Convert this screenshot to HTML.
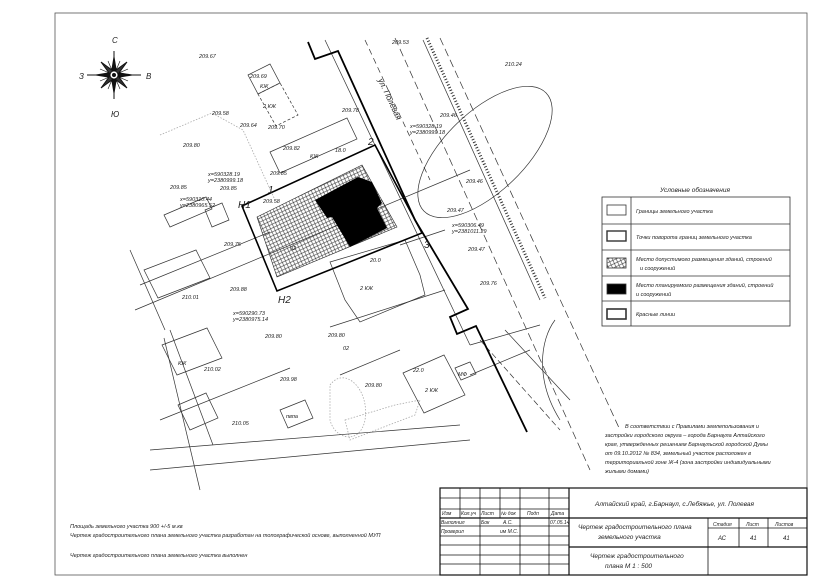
<!DOCTYPE html>
<html><head><meta charset="utf-8"><style>
html,body{margin:0;padding:0;background:#fff;}
svg{display:block;}
text{font-family:"Liberation Sans",sans-serif;font-style:italic;fill:#222;}
</style></head><body>
<svg width="830" height="586" viewBox="0 0 830 586" xmlns="http://www.w3.org/2000/svg">
<defs>
<pattern id="hx" width="5" height="5" patternUnits="userSpaceOnUse" patternTransform="rotate(20)">
<path d="M0 0L5 5M5 0L0 5" stroke="#333" stroke-width="0.6"/>
</pattern>
</defs>
<rect width="830" height="586" fill="#fff"/>
<rect x="55" y="13" width="752" height="562" fill="none" stroke="#555" stroke-width="0.8"/>

<!-- compass -->
<g transform="translate(114,75)" stroke="#111" fill="#111">
<line x1="-27" y1="0" x2="27" y2="0" stroke-width="1"/>
<line x1="0" y1="-24" x2="0" y2="24" stroke-width="1"/>
<polygon points="0,-18 3,0 0,18 -3,0"/>
<polygon points="-18,0 0,3 18,0 0,-3"/>
<polygon points="-13,-13 2,-2 13,13 -2,2" fill="#333"/>
<polygon points="13,-13 2,2 -13,13 -2,-2" fill="#333"/>
<g stroke-width="0.6" fill="none">
<line x1="-6" y1="-14" x2="6" y2="14"/><line x1="6" y1="-14" x2="-6" y2="14"/>
<line x1="-14" y1="-6" x2="14" y2="6"/><line x1="14" y1="-6" x2="-14" y2="6"/>
</g>
<circle r="4" fill="#fff" stroke-width="0.8"/>
<circle r="1.5"/>
</g>
<text x="112" y="43" font-size="8">С</text>
<text x="79" y="79" font-size="8">З</text>
<text x="146" y="79" font-size="8">В</text>
<text x="111" y="117" font-size="8">Ю</text>

<g stroke="#aaa" stroke-width="0.8" stroke-dasharray="1.5,1.5" fill="none">
<polyline points="160,135 212,113 243,130 275,200"/>
<path d="M330,385 C345,365 370,390 365,420 C360,445 335,440 330,420 Z"/>
<path d="M345,420 L395,405 L420,400 L415,415 L350,440 Z"/>
</g>

<g stroke="#333" stroke-width="0.7" fill="none">
<line x1="395" y1="38" x2="590" y2="470" stroke-dasharray="8,4"/>
<line x1="440" y1="38" x2="620" y2="430" stroke-dasharray="8,4"/>
<line x1="365" y1="40" x2="430" y2="180" stroke-dasharray="6,4"/>
<line x1="325" y1="40" x2="470" y2="345"/>
<line x1="423" y1="40" x2="540" y2="300"/>
<line x1="427" y1="38" x2="545" y2="298" stroke-dasharray="1,2" stroke-width="3"/>
<ellipse cx="485" cy="152" rx="85" ry="40" transform="rotate(-44 485 152)"/>
<path d="M555,320 C540,340 535,380 560,420"/>
<line x1="480" y1="340" x2="560" y2="430" stroke-dasharray="6,3"/>
<line x1="505" y1="330" x2="570" y2="400"/>
<line x1="400" y1="245" x2="445" y2="230"/>
<line x1="470" y1="345" x2="540" y2="325"/>
<line x1="470" y1="375" x2="530" y2="350"/>
<line x1="164" y1="338" x2="200" y2="490"/>
<line x1="130" y1="250" x2="165" y2="330"/>
</g>

<polyline points="308,42 315,59 338,51 415,220 468,309 450,317 457,334 476,326 527,432" fill="none" stroke="#000" stroke-width="1.8"/>

<g fill="none" stroke="#333" stroke-width="0.7">
<polygon points="248,75 270,64 280,83 258,94"/>
<polygon points="258,94 280,83 298,115 276,126" stroke-dasharray="3,2"/>
<polygon points="270,152 347,118 357,139 280,173"/>
<polygon points="164,215 206,197 212,209 170,227"/>
<polygon points="205,210 222,203 229,220 212,227"/>
<polygon points="144,270 196,250 210,278 158,298"/>
<polygon points="162,345 207,328 222,358 177,375"/>
<polygon points="178,405 206,393 218,418 190,430"/>
<polygon points="330,262 405,240 420,275 425,295 360,322 345,300"/>
<polygon points="403,373 444,355 465,395 424,413"/>
<polygon points="280,410 305,400 313,418 288,428"/>
<polygon points="455,368 470,362 476,374 461,380"/>
<line x1="140" y1="285" x2="270" y2="232"/>
<line x1="135" y1="310" x2="470" y2="170"/>
<line x1="160" y1="420" x2="290" y2="368"/>
<line x1="150" y1="450" x2="460" y2="425"/>
<line x1="150" y1="470" x2="470" y2="440"/>
<line x1="330" y1="327" x2="445" y2="290"/>
<line x1="170" y1="330" x2="213" y2="445"/>
<line x1="340" y1="375" x2="400" y2="350"/>
</g>

<polygon points="242,206 375,145 422,233 277,291" fill="none" stroke="#000" stroke-width="1.6"/>
<polygon points="257,217 362,165 397,227 277,277" fill="url(#hx)" stroke="#222" stroke-width="0.6"/>
<polygon points="315,200 358,177 372,182 382,203 377,208 387,228 350,247 332,217 327,218" fill="#000"/>

<g font-size="10">
<text x="238" y="208">Н1</text>
<text x="278" y="303">Н2</text>
<text x="268" y="193">1</text>
<text x="368" y="145">2</text>
<text x="424" y="248">3</text>
</g>
<g font-size="5.5">
<text x="208" y="176">x=590328.19</text><text x="208" y="182">y=2380999.18</text>
<text x="180" y="201">x=590310.44</text><text x="180" y="207">y=2380965.52</text>
<text x="410" y="128">x=590328.19</text><text x="410" y="134">y=2380999.18</text>
<text x="452" y="227">x=590306.49</text><text x="452" y="233">y=2381011.29</text>
<text x="233" y="315">x=590290.73</text><text x="233" y="321">y=2380975.14</text>
<text x="199" y="58">209.67</text><text x="250" y="78">209.69</text>
<text x="212" y="115">209.58</text><text x="240" y="127">209.64</text>
<text x="268" y="129">209.70</text><text x="183" y="147">209.80</text>
<text x="283" y="150">209.82</text><text x="270" y="175">209.85</text>
<text x="220" y="190">209.85</text><text x="170" y="189">209.85</text>
<text x="224" y="246">209.75</text><text x="230" y="291">209.88</text>
<text x="182" y="299">210.01</text><text x="265" y="338">209.80</text>
<text x="328" y="337">209.80</text><text x="280" y="381">209.98</text>
<text x="365" y="387">209.80</text><text x="204" y="371">210.02</text>
<text x="232" y="425">210.05</text><text x="392" y="44">209.53</text>
<text x="505" y="66">210.24</text><text x="440" y="117">209.46</text>
<text x="466" y="183">209.46</text><text x="447" y="212">209.47</text>
<text x="468" y="251">209.47</text><text x="480" y="285">209.76</text>
<text x="342" y="112">209.78</text><text x="263" y="203">209.58</text>
<text x="290" y="250">02</text><text x="343" y="350">02</text>
<text x="310" y="158">КЖ</text><text x="335" y="152">18.0</text>
<text x="260" y="88">КЖ</text><text x="263" y="108">2 КЖ</text>
<text x="360" y="290">2 КЖ</text><text x="370" y="262">20.0</text>
<text x="425" y="392">2 КЖ</text><text x="413" y="372">22.0</text>
<text x="286" y="418">пвпа</text><text x="458" y="376">МФ</text>
<text x="178" y="365">КЖ</text>
</g>
<text x="378" y="80" font-size="8" transform="rotate(65 378 80)">ул. Полевая</text>

<text x="660" y="192" font-size="6.5">Условные обозначения</text>
<g fill="none" stroke="#333" stroke-width="0.8">
<rect x="602" y="197" width="188" height="129"/>
<line x1="631" y1="197" x2="631" y2="326"/>
<line x1="602" y1="224" x2="790" y2="224"/>
<line x1="602" y1="250" x2="790" y2="250"/>
<line x1="602" y1="276" x2="790" y2="276"/>
<line x1="602" y1="301" x2="790" y2="301"/>
<rect x="607" y="205" width="19" height="10"/>
<rect x="607" y="231" width="19" height="10" stroke-width="1.4"/>
<rect x="607" y="258" width="19" height="10" fill="url(#hx)"/>
<rect x="607" y="284" width="19" height="10" fill="#000"/>
<rect x="607" y="309" width="19" height="10" stroke-width="1.6"/>
</g>
<g font-size="5.5">
<text x="636" y="213">Границы земельного участка</text>
<text x="636" y="239">Точки поворота границ земельного участка</text>
<text x="636" y="261">Место допустимого размещения зданий, строений</text>
<text x="640" y="270">и сооружений</text>
<text x="636" y="287">Место планируемого размещения зданий, строений</text>
<text x="636" y="296">и сооружений</text>
<text x="636" y="316">Красные линии</text>
</g>

<g font-size="5.5">
<text x="625" y="428">В соответствии с Правилами землепользования и</text>
<text x="605" y="437">застройки городского округа – города Барнаула Алтайского</text>
<text x="605" y="446">края, утвержденных решением Барнаульской городской Думы</text>
<text x="605" y="455">от 09.10.2012 № 834, земельный участок расположен в</text>
<text x="605" y="464">территориальной зоне Ж-4 (зона застройки индивидуальными</text>
<text x="605" y="473">жилыми домами)</text>
</g>

<g font-size="5.5">
<text x="70" y="528">Площадь земельного участка 900 +/-5 м.кв</text>
<text x="70" y="537">Чертеж градостроительного плана земельного участка разработан на топографической основе, выполненной МУП</text>
<text x="70" y="557">Чертеж градостроительного плана земельного участка выполнен</text>
</g>

<g fill="none" stroke="#111" stroke-width="0.8">
<rect x="440" y="488" width="367" height="87" stroke-width="1.2"/>
<line x1="460" y1="488" x2="460" y2="518"/>
<line x1="480" y1="488" x2="480" y2="575"/>
<line x1="500" y1="488" x2="500" y2="518"/>
<line x1="520" y1="488" x2="520" y2="575"/>
<line x1="549" y1="488" x2="549" y2="575"/>
<line x1="569" y1="488" x2="569" y2="575" stroke-width="1.2"/>
<line x1="440" y1="498" x2="569" y2="498"/>
<line x1="440" y1="509" x2="569" y2="509"/>
<line x1="440" y1="518" x2="807" y2="518" stroke-width="1.2"/>
<line x1="440" y1="526" x2="569" y2="526"/>
<line x1="440" y1="536" x2="569" y2="536"/>
<line x1="440" y1="545" x2="569" y2="545"/>
<line x1="440" y1="555" x2="569" y2="555"/>
<line x1="440" y1="564" x2="569" y2="564"/>
<line x1="569" y1="547" x2="807" y2="547" stroke-width="1.2"/>
<line x1="708" y1="518" x2="708" y2="575"/>
<line x1="739" y1="518" x2="739" y2="547"/>
<line x1="768" y1="518" x2="768" y2="547"/>
<line x1="708" y1="528" x2="807" y2="528"/>
</g>
<g font-size="5">
<text x="442" y="515">Изм</text><text x="461" y="515">Кол.уч</text><text x="481" y="515">Лист</text>
<text x="501" y="515">№ док</text><text x="527" y="515">Подп</text><text x="551" y="515">Дата</text>
<text x="441" y="524">Выполнил</text><text x="481" y="524">Бок</text><text x="503" y="524">А.С.</text>
<text x="550" y="524">07.05.14</text>
<text x="441" y="533">Проверил</text><text x="500" y="533">им М.С.</text>
<text x="713" y="526">Стадия</text><text x="746" y="526">Лист</text><text x="775" y="526">Листов</text>
<text x="718" y="540" font-size="6">АС</text><text x="750" y="540" font-size="6">41</text><text x="783" y="540" font-size="6">41</text>
</g>
<g font-size="6.5">
<text x="595" y="506">Алтайский край, г.Барнаул, с.Лебяжье, ул. Полевая</text>
<text x="578" y="529">Чертеж градостроительного плана</text>
<text x="598" y="539">земельного участка</text>
<text x="590" y="558">Чертеж градостроительного</text>
<text x="605" y="568">плана М 1 : 500</text>
</g>
</svg>
</body></html>
